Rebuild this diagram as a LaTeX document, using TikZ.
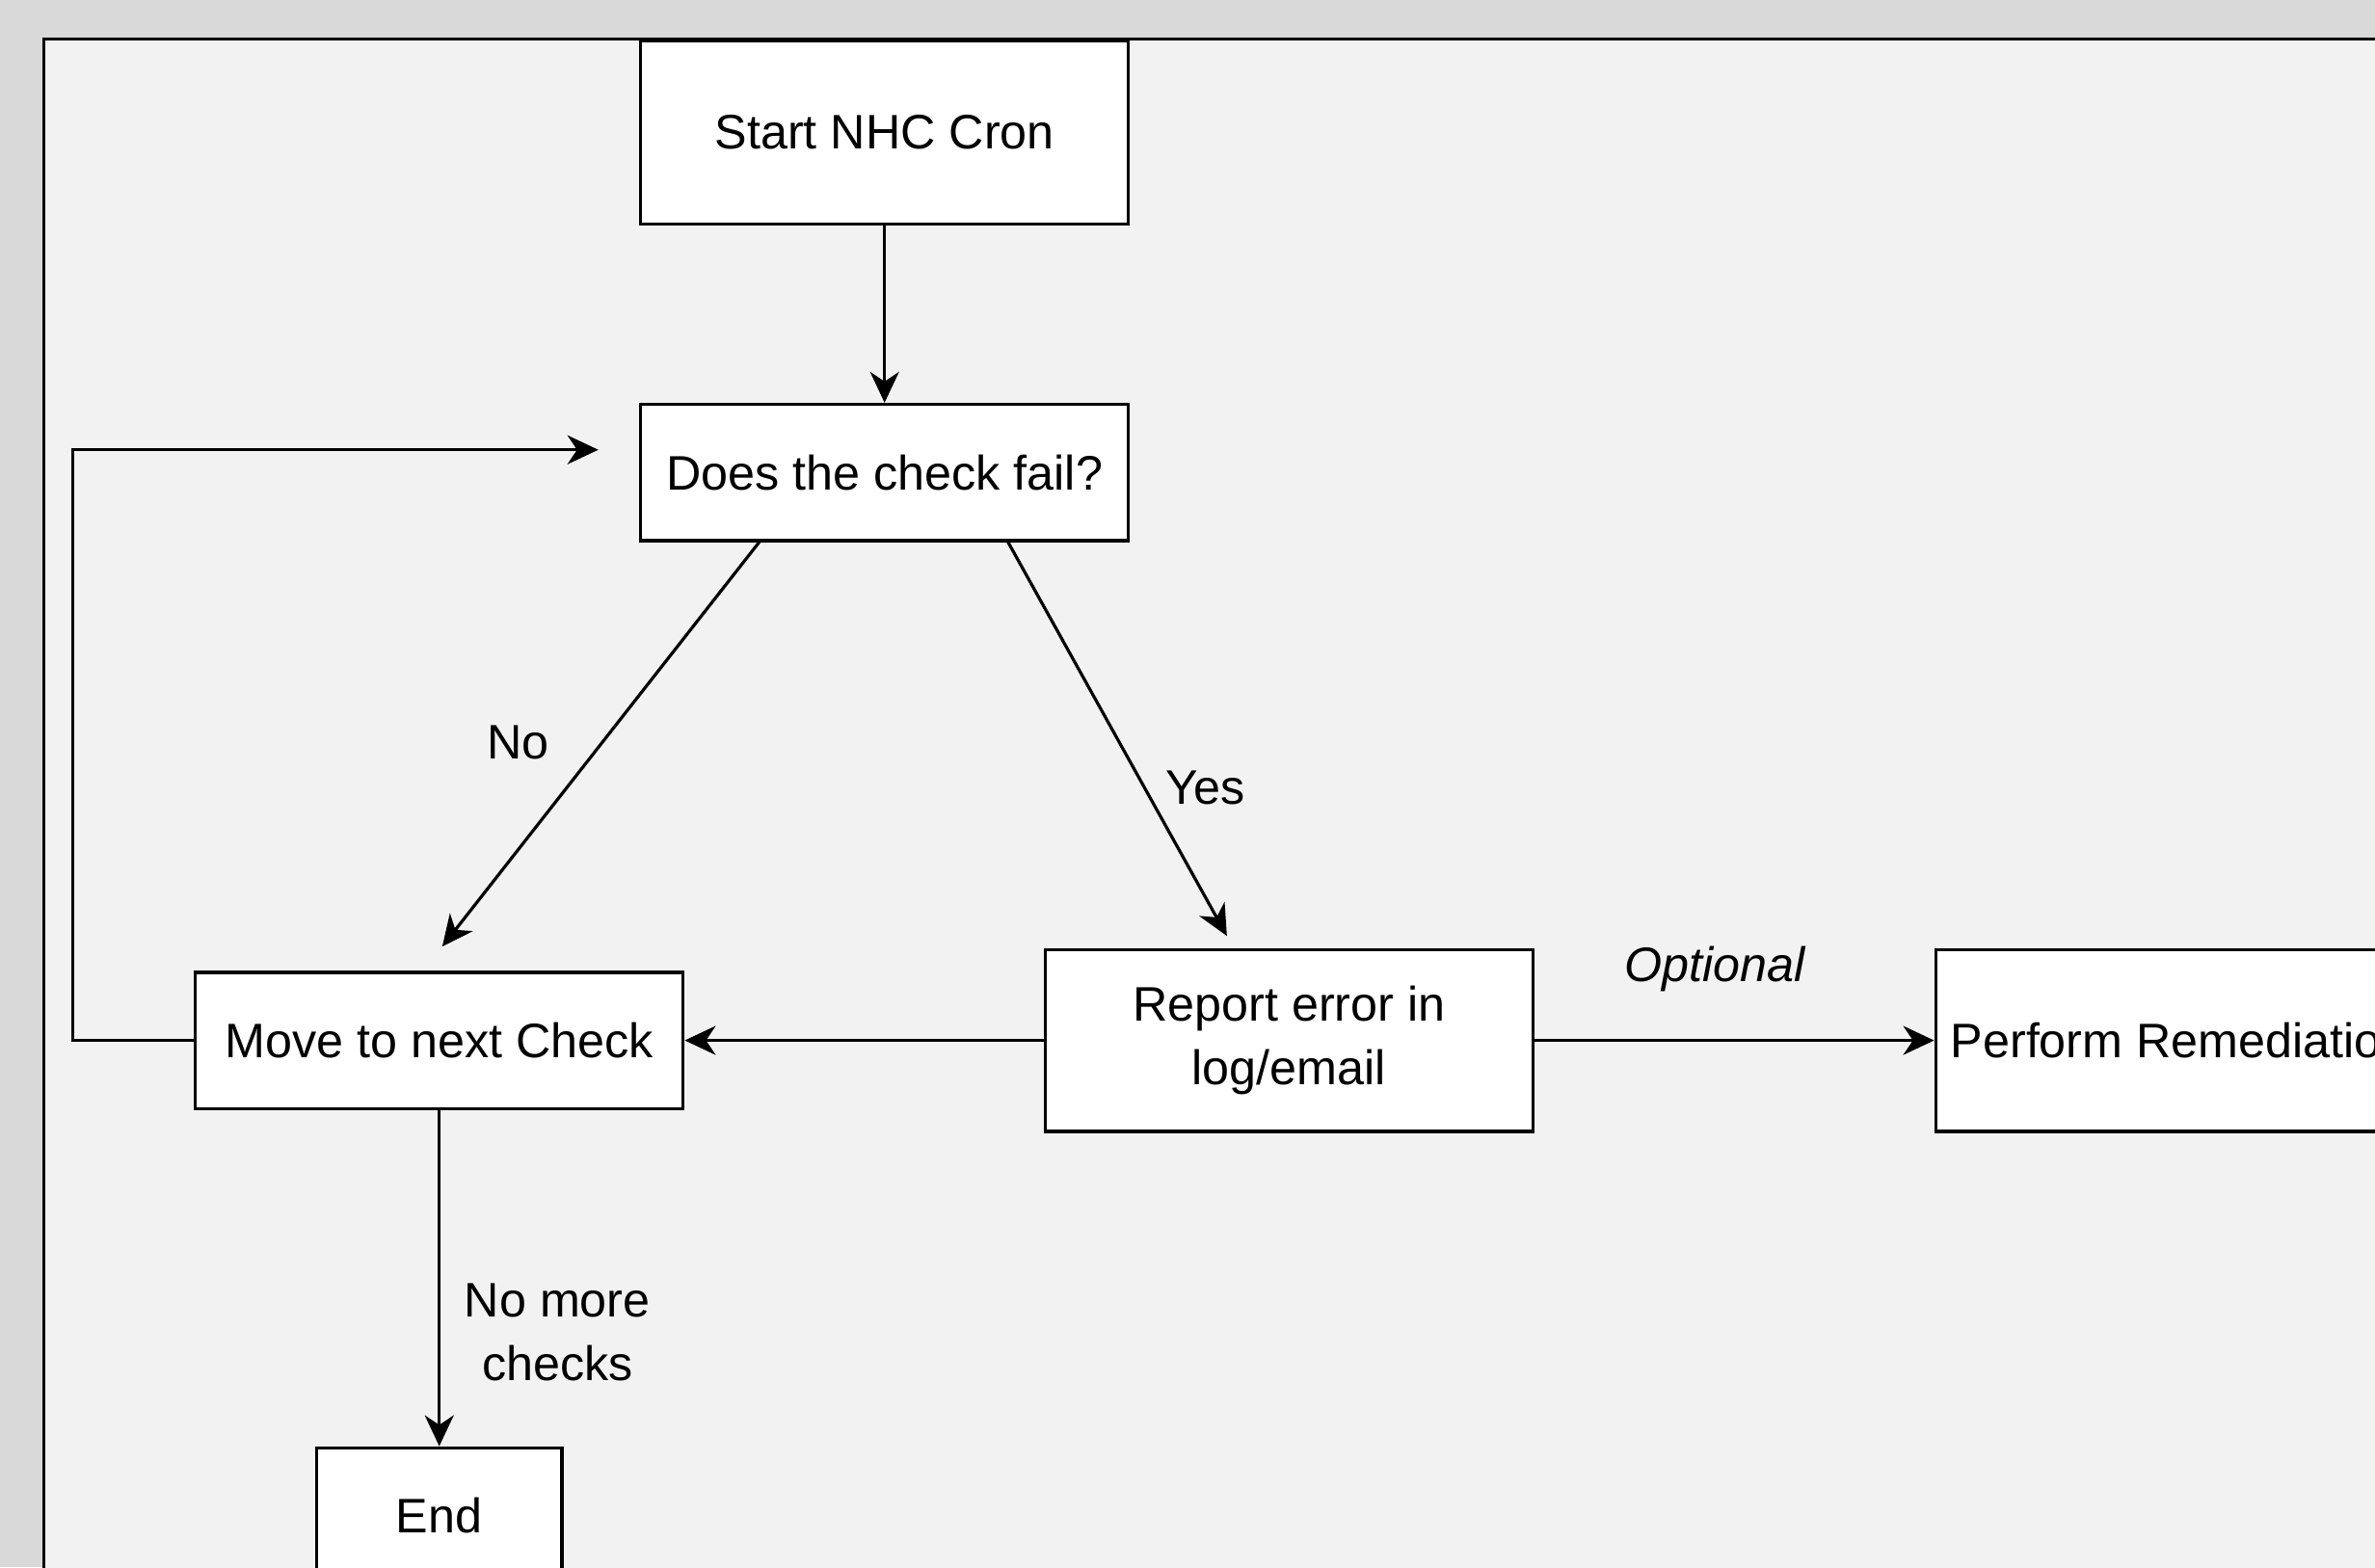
\documentclass[tikz,border=0pt]{standalone}
\usepackage{fontspec}
\setmainfont{Liberation Sans}
\usetikzlibrary{arrows.meta,calc}
\definecolor{bggray}{HTML}{D9D9D9}
\definecolor{panelgray}{HTML}{F2F2F2}
\begin{document}
\begin{tikzpicture}[x=0.39286pt,y=-0.39286pt,
  box/.style={draw=black,line width=0.85pt,fill=white,minimum width=126.5pt,inner sep=0pt,align=center,font=\fontsize{12.57}{16.5}\selectfont},
  conn/.style={draw=black,line width=0.8pt,-{Stealth[length=8pt,width=7.5pt,inset=2.5pt]}},
  lbl/.style={font=\fontsize{12.57}{16.5}\selectfont,align=center,inner sep=0pt}]
\useasboundingbox (0,0) rectangle (1568,1035);
\clip (0,0) rectangle (1568,1035);
\fill[bggray] (0,0) rectangle (1568,1035);
\filldraw[fill=panelgray,draw=black,line width=0.7pt] (29,25.6) rectangle (1700,1200);
% nodes
\node[box,minimum height=47.5pt] (start) at (584,87.5) {Start NHC Cron};
\node[box,minimum height=35.36pt] (does) at (584,312) {Does the check fail?};
\node[box,minimum height=35.36pt] (move) at (290,687) {Move to next Check};
\node[box,minimum height=47.14pt] (report) at (851,687) {Report error in\\log/email};
\node[box,minimum height=47.14pt] (perform) at (1439,687) {Perform Remediation};
\node[box,minimum width=63.64pt,minimum height=35.36pt] (end) at (290,1001) {End};
% free ends
\coordinate (loopin) at (395,297);
\coordinate (noA) at (502,357);
\coordinate (noB) at (292,625);
\coordinate (yesA) at (665,357);
\coordinate (yesB) at (810,618);
% labels
\node[lbl] (nolbl) at (342,490) {No};
\node[lbl] (yeslbl) at (796,520) {Yes};
\node[lbl] (optlbl) at (1132,640) {\itshape Optional};
\node[lbl] (morelbl) at (368,880) {No more\\checks};
% connectors
\draw[conn] (start) -- (does);
\draw[conn] (move.west) -- ++(-80,0) |- (loopin);
\draw[conn] (noA) -- (noB);
\draw[conn] (yesA) -- (yesB);
\draw[conn] (report) -- (move);
\draw[conn] (report) -- (perform);
\draw[conn] (move) -- (end);
\end{tikzpicture}
\end{document}
